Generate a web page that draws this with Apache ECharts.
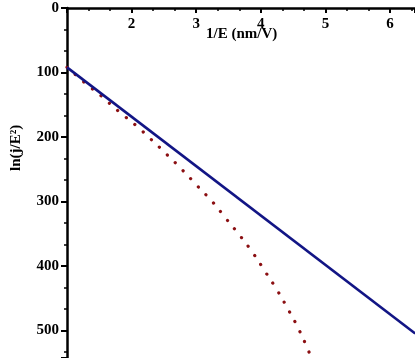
<!DOCTYPE html>
<html>
<head>
<meta charset="utf-8">
<style>
  html, body { margin: 0; padding: 0; background: #fff; }
  #chart { width: 415px; height: 358px; }
</style>
<script src="https://cdn.jsdelivr.net/npm/echarts@6/dist/echarts.min.js"></script>
</head>
<body>
<div id="chart"></div>
<script>
// straight Fowler-Nordheim line (1/E, ln(j/E^2))
var lineX = [1, 6.39];
var lineY = [92, 504.5];
// dotted deviating curve
var curveX = [1, 1.27, 1.53, 1.79, 2.06, 2.30, 2.55, 2.79, 3.02, 3.26, 3.47, 3.69, 3.89, 4.08, 4.26, 4.43, 4.59, 4.73, 4.78];
var curveY = [92, 115.5, 136.5, 159.5, 181.5, 203.5, 227.5, 251.5, 276, 301.5, 327.5, 354.5, 381.5, 410.5, 438.5, 468.5, 498.5, 529.5, 542];

var font = 'Liberation Serif';

function pairs(xs, ys) {
	var out = [];
	for (var i = 0; i < xs.length; i++) {
		out.push([xs[i], ys[i]]);
	}
	return out;
}

var myChart = echarts.init(document.getElementById('chart'));
myChart.setOption({
	animation: false,
	grid: {
		left: 67,
		right: 0,
		top: 8,
		bottom: 0,
		outerBoundsMode: 'none'
	},
	xAxis: {
		type: 'value',
		position: 'top',
		min: 1,
		max: 6.387,
		interval: 1,
		splitLine: { show: false },
		axisLine: { lineStyle: { color: '#000', width: 2.5 } },
		axisTick: { inside: true, length: 5, lineStyle: { color: '#000', width: 2 } },
		minorTick: { show: true, splitNumber: 3, length: 3, lineStyle: { color: '#000', width: 1.5 } },
		axisLabel: {
			inside: true,
			margin: 9,
			showMaxLabel: false,
			color: '#000',
			fontFamily: font,
			fontWeight: 'bold',
			fontSize: 15,
			formatter: function(v) { return v === 1 ? '' : v; }
		}
	},
	yAxis: {
		type: 'value',
		inverse: true,
		min: 0,
		max: 542.6,
		interval: 100,
		splitLine: { show: false },
		axisLine: { lineStyle: { color: '#000', width: 2.5 } },
		axisTick: { length: 6, lineStyle: { color: '#000', width: 2 } },
		minorTick: { show: true, splitNumber: 3, length: 3, lineStyle: { color: '#000', width: 1.5 } },
		axisLabel: {
			margin: 8,
			showMaxLabel: false,
			color: '#000',
			fontFamily: font,
			fontWeight: 'bold',
			fontSize: 15
		}
	},
	graphic: [
		{
			type: 'text',
			left: 206,
			top: 27,
			style: {
				text: '1/E (nm/V)',
				fill: '#000',
				font: 'bold 15px "Liberation Serif"'
			}
		},
		{
			type: 'text',
			x: 9,
			y: 171,
			rotation: Math.PI / 2,
			style: {
				text: 'ln(j/E²)',
				fill: '#000',
				font: 'bold 15px "Liberation Serif"'
			}
		}
	],
	series: [
		{
			type: 'line',
			data: pairs(curveX, curveY),
			smooth: true,
			symbol: 'none',
			lineStyle: {
				color: '#8b0f12',
				width: 3.2,
				type: [0.1, 11],
				cap: 'round'
			},
			z: 3
		},
		{
			type: 'line',
			data: pairs(lineX, lineY),
			symbol: 'none',
			lineStyle: { color: '#121585', width: 2.6 },
			z: 4
		}
	]
});
</script>
</body>
</html>
